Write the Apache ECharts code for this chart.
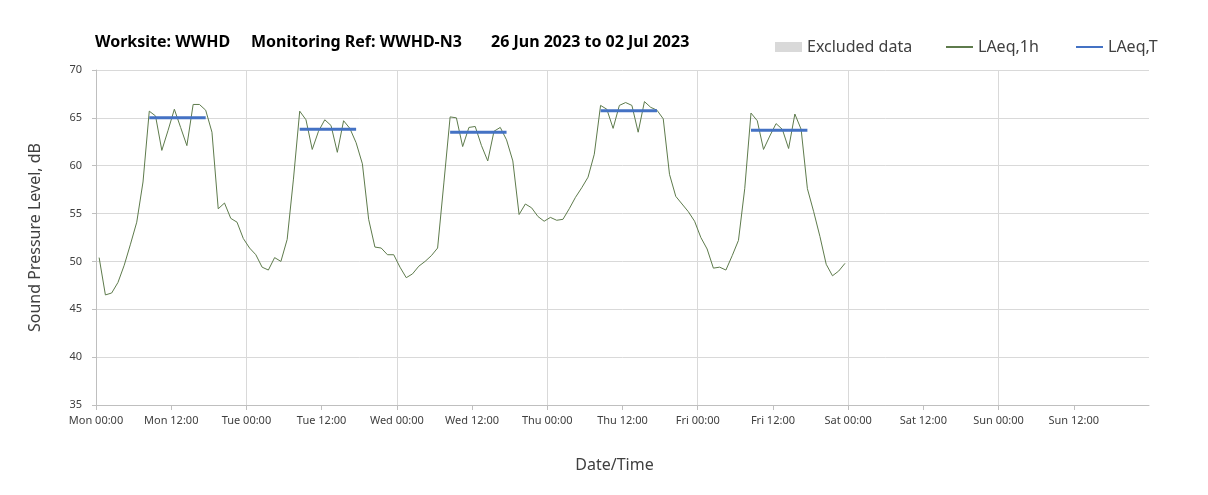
<!DOCTYPE html>
<html>
<head>
<meta charset="utf-8">
<script src="https://cdn.jsdelivr.net/npm/echarts@6/dist/echarts.min.js"></script>
<style>
  html, body { margin: 0; padding: 0; background: #fff; }
  #chart { width: 1208px; height: 495px; }
</style>
</head>
<body>
<div id="chart"></div>
<script>
// day names for x-axis labels
const dayNames = ['Mon', 'Tue', 'Wed', 'Thu', 'Fri', 'Sat', 'Sun']

// hourly LAeq,1h values, Mon 00:00 to Fri 23:00 (plotted at mid-hour)
const laeq1h = [
  50.4, 46.5, 46.7, 47.8, 49.6, 51.8, 54.1, 58.3, 65.7, 65.2, 61.6, 63.7,
  65.9, 64.0, 62.1, 66.4, 66.4, 65.8, 63.5, 55.5, 56.1, 54.5, 54.1, 52.4,
  51.4, 50.7, 49.4, 49.1, 50.4, 50.0, 52.3, 58.6, 65.7, 64.8, 61.7, 63.6,
  64.8, 64.2, 61.4, 64.7, 63.9, 62.4, 60.2, 54.4, 51.5, 51.4, 50.7, 50.7,
  49.4, 48.3, 48.7, 49.5, 50.0, 50.6, 51.4, 58.2, 65.1, 65.0, 62.0, 64.0,
  64.1, 62.1, 60.5, 63.6, 64.0, 62.7, 60.5, 54.9, 56.0, 55.6, 54.7, 54.2,
  54.6, 54.3, 54.4, 55.5, 56.7, 57.7, 58.8, 61.2, 66.3, 65.9, 63.9, 66.3,
  66.6, 66.3, 63.5, 66.7, 66.1, 65.8, 64.9, 59.1, 56.8, 56.0, 55.2, 54.2,
  52.5, 51.3, 49.3, 49.4, 49.1, 50.6, 52.2, 57.6, 65.5, 64.7, 61.7, 63.1,
  64.4, 63.8, 61.8, 65.4, 63.8, 57.6, 55.2, 52.6, 49.7, 48.5, 49.0, 49.8,
]

// LAeq,T for the daytime period of each weekday
const laeqT = [65.0, 63.8, 63.5, 65.75, 63.7]
const periodStart = 8.5
const periodEnd = 17.5

const hourlyData = laeq1h.map((v, i) => [i + 0.5, v])

const periodData = []
laeqT.forEach((v, d) => {
  periodData.push([d * 24 + periodStart, v])
  periodData.push([d * 24 + periodEnd, v])
  periodData.push([d * 24 + periodEnd + 0.01, null])
})

// vertical grid only every 24h, none at the right end
const vGridColors = []
for (let i = 0; i <= 14; i++) {
  vGridColors.push(i % 2 === 0 && i < 14 ? '#d9d9d9' : 'rgba(0,0,0,0)')
}

const chart = echarts.init(document.getElementById('chart'))

const font = '"Noto Sans", "Open Sans", sans-serif'

const titleText = { fontSize: 16, fontWeight: 'bold', fontFamily: font, color: '#000' }

// one legend per entry so each can sit where the original has it
const legendBase = {
  top: 34,
  itemWidth: 27,
  itemHeight: 10,
  textStyle: { fontSize: 16, color: '#404040', fontFamily: font },
}

const option = {
  backgroundColor: '#fff',
  animation: false,
  textStyle: { fontFamily: font },
  title: {
    text: '{a|Worksite: WWHD}{b|Monitoring Ref: WWHD-N3}{c|26 Jun 2023 to 02 Jul 2023}',
    left: 90,
    top: 29,
    textStyle: {
      ...titleText,
      rich: {
        a: { ...titleText, width: 156 },
        b: { ...titleText, width: 240 },
        c: { ...titleText },
      },
    },
  },
  legend: [
    { ...legendBase, left: 770, data: [{ name: 'Excluded data', icon: 'rect', itemStyle: { color: '#d9d9d9' } }] },
    { ...legendBase, left: 940, data: [{ name: 'LAeq,1h', itemStyle: { opacity: 0 } }] },
    { ...legendBase, left: 1070, data: [{ name: 'LAeq,T', itemStyle: { opacity: 0 } }] },
  ],
  grid: {
    left: 96,
    right: 59,
    top: 70,
    bottom: 90,
  },
  xAxis: {
    type: 'value',
    min: 0,
    max: 168,
    interval: 12,
    name: 'Date/Time',
    nameLocation: 'middle',
    nameGap: 52,
    nameTextStyle: { fontSize: 16, color: '#404040', padding: [0, 16, 0, 0] },
    axisLine: { lineStyle: { color: '#bfbfbf', width: 1 } },
    axisTick: { show: true, length: 5, lineStyle: { color: '#bfbfbf' } },
    axisLabel: {
      fontSize: 11,
      color: '#404040',
      margin: 10,
      showMaxLabel: false,
      formatter: (v) => {
        if (v >= 168) return ''
        return dayNames[Math.floor(v / 24)] + (v % 24 === 0 ? ' 00:00' : ' 12:00')
      },
    },
    splitLine: {
      show: true,
      lineStyle: { color: vGridColors, width: 1 },
    },
  },
  yAxis: {
    type: 'value',
    min: 35,
    max: 70,
    interval: 5,
    name: 'Sound Pressure Level, dB',
    nameLocation: 'middle',
    nameGap: 53,
    nameTextStyle: { fontSize: 16, color: '#404040' },
    axisLine: { show: true, lineStyle: { color: '#bfbfbf' } },
    axisTick: { show: true, length: 4, lineStyle: { color: '#bfbfbf' } },
    axisLabel: { fontSize: 11, color: '#404040', margin: 14 },
    splitLine: { lineStyle: { color: '#d9d9d9', width: 1 } },
  },
  series: [
    {
      name: 'Excluded data',
      type: 'bar',
      data: [],
      itemStyle: { color: '#d9d9d9' },
    },
    {
      name: 'LAeq,1h',
      type: 'line',
      data: hourlyData,
      symbol: 'none',
      lineStyle: { color: '#5e7b4c', width: 1 },
      itemStyle: { color: '#5e7b4c' },
      z: 3,
    },
    {
      name: 'LAeq,T',
      type: 'line',
      data: periodData,
      symbol: 'none',
      connectNulls: false,
      lineStyle: { color: '#4472c4', width: 3 },
      itemStyle: { color: '#4472c4' },
      z: 4,
    },
  ],
}

chart.setOption(option)
</script>
</body>
</html>
